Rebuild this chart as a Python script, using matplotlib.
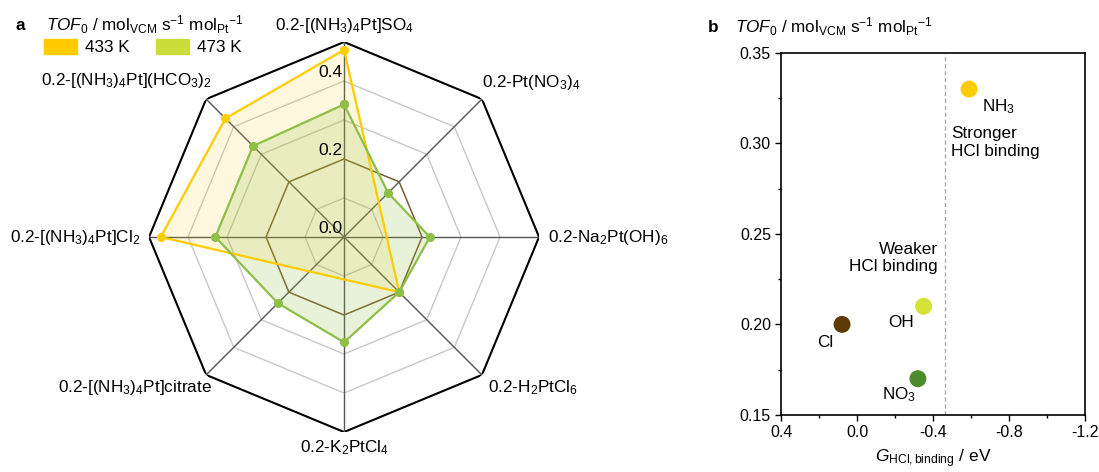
import numpy as np
import matplotlib.pyplot as plt
from matplotlib.patches import Patch
from matplotlib.ticker import MultipleLocator

plt.rcParams['font.family'] = 'Liberation Sans'
plt.rcParams['mathtext.fontset'] = 'custom'
plt.rcParams['mathtext.rm'] = 'Liberation Sans'
plt.rcParams['mathtext.it'] = 'Liberation Sans:italic'
plt.rcParams['mathtext.bf'] = 'Liberation Sans:bold'
plt.rcParams['axes.unicode_minus'] = False

# radar data, clockwise from top
precursors = [
    '0.2-[(NH$_3$)$_4$Pt]SO$_4$',
    '0.2-Pt(NO$_3$)$_4$',
    '0.2-Na$_2$Pt(OH)$_6$',
    '0.2-H$_2$PtCl$_6$',
    '0.2-K$_2$PtCl$_4$',
    '0.2-[(NH$_3$)$_4$Pt]citrate',
    '0.2-[(NH$_3$)$_4$Pt]Cl$_2$',
    '0.2-[(NH$_3$)$_4$Pt](HCO$_3$)$_2$',
]
tof_433 = [0.48, np.nan, np.nan, 0.20, np.nan, np.nan, 0.47, 0.43]
tof_473 = [0.34, 0.16, 0.22, 0.20, 0.27, 0.24, 0.33, 0.33]
ring_values = [0.1, 0.2, 0.3, 0.4, 0.5]
ring_labels = [0.0, 0.2, 0.4]
reference_ring = 0.2

# scatter data
ligands = ['NH$_3$', 'OH', 'Cl', 'NO$_3$']
g_binding = [-0.59, -0.35, 0.08, -0.32]
tof_ligand = [0.33, 0.21, 0.20, 0.17]
binding_threshold = -0.465

yellow = '#FFCC00'
green_line = '#8DBE45'
green_patch = '#C9DE3A'
ligand_colors = ['#FFCC00', '#D4E236', '#5E3A06', '#4B8B2B']

PX = 72 / 100  # points per pixel
FS = 12.3
tof_title = (r'$\mathit{TOF}_0$ / mol$_{\mathrm{VCM}}$ s$^{-1}$ '
             r'mol$_{\mathrm{Pt}}$$^{-1}$')

fig = plt.figure(figsize=(10.99, 4.72), dpi=100)

# ---- panel a: radar ----
ax = fig.add_axes([0.1356, 0.0847, 0.3549, 0.8263], projection='polar')
ax.set_theta_zero_location('N')
ax.set_theta_direction(-1)
ax.set_ylim(0, 0.5)
ax.axis('off')

n = len(precursors)
theta = np.arange(n) * 2 * np.pi / n
closed = np.append(theta, theta[0])

for r in ring_values:
    if r == max(ring_values):
        ax.plot(closed, [r] * (n + 1), color='black', lw=1.5, zorder=2)
    else:
        ax.plot(closed, [r] * (n + 1), color='#c8c8c8', lw=1, zorder=1)
ax.plot(closed, [reference_ring] * (n + 1), color='#7a5a2a', lw=1, zorder=3)
for t in theta:
    ax.plot([t, t], [0, max(ring_values)], color='#555555', lw=1, zorder=2)

for vals, lc, fa in [(tof_433, yellow, 0.13), (tof_473, green_line, 0.2)]:
    v = np.array(vals)
    ok = ~np.isnan(v)
    t = np.append(theta[ok], theta[ok][0])
    r = np.append(v[ok], v[ok][0])
    ax.fill(t, r, color=lc, alpha=fa, lw=0, zorder=4)
    ax.plot(t, r, color=lc, lw=1.6, marker='o', ms=5.5, zorder=5)

for val in ring_labels:
    ax.annotate(f'{val:.1f}', (0, val), xytext=(-2 * PX, 9 * PX),
                textcoords='offset points', ha='right', va='center',
                fontsize=12.5, zorder=6)

# label offsets in pixels and alignment
label_pos = [(0, 17, 'center'), (0, 17, 'left'), (9, 0, 'left'),
             (6, -13, 'left'), (0, -16, 'center'), (6, -13, 'right'),
             (-9, 0, 'right'), (6, 19, 'right')]
for t, name, (dx, dy, ha) in zip(theta, precursors, label_pos):
    ax.annotate(name, (t, max(ring_values)), xytext=(dx * PX, dy * PX),
                textcoords='offset points', ha=ha, va='center',
                fontsize=FS, annotation_clip=False)

fig.text(15 / 1099, 1 - 25 / 472, 'a', fontsize=FS, fontweight='bold',
         va='center')
fig.text(46 / 1099, 1 - 25 / 472, tof_title, fontsize=FS, va='center')
fig.legend(handles=[Patch(color=yellow, label='433 K'),
                    Patch(color=green_patch, label='473 K')],
           loc='upper left', bbox_to_anchor=(44 / 1099, 1 - 39 / 472),
           ncol=2, frameon=False, fontsize=FS, borderpad=0, borderaxespad=0,
           handlelength=1.95, handleheight=0.95, handletextpad=0.45,
           columnspacing=1.55)

# ---- panel b: scatter ----
ax2 = fig.add_axes([0.711, 0.121, 0.276, 0.767])
ax2.set_xlim(0.4, -1.2)
ax2.set_ylim(0.15, 0.35)
ax2.set_xticks([0.4, 0.0, -0.4, -0.8, -1.2])
ax2.set_yticks([0.15, 0.20, 0.25, 0.30, 0.35])
ax2.xaxis.set_minor_locator(MultipleLocator(0.2))
ax2.yaxis.set_minor_locator(MultipleLocator(0.025))
ax2.xaxis.set_major_formatter(plt.FormatStrFormatter('%.1f'))
ax2.yaxis.set_major_formatter(plt.FormatStrFormatter('%.2f'))
ax2.tick_params(which='both', direction='out', labelsize=11.5, width=1)
ax2.tick_params(which='major', length=4)
ax2.tick_params(which='minor', length=2.5)
for s in ax2.spines.values():
    s.set_linewidth(1.2)

ax2.axvline(binding_threshold, color='#aaaaaa', lw=1, ls=(0, (3, 2)))
ax2.scatter(g_binding, tof_ligand, s=125, c=ligand_colors, zorder=3)

ligand_offsets = [(13, -18, 'left'), (-10, -16, 'right'),
                  (-9, -18, 'right'), (-2, -16, 'right')]
for x, y, name, (dx, dy, ha) in zip(g_binding, tof_ligand, ligands,
                                    ligand_offsets):
    ax2.annotate(name, (x, y), xytext=(dx * PX, dy * PX),
                 textcoords='offset points', ha=ha, va='center', fontsize=FS)

ax2.text(binding_threshold - 0.03, 0.3095, 'Stronger\nHCl binding',
         ha='left', va='top', fontsize=FS, linespacing=1.2)
ax2.text(binding_threshold + 0.04, 0.2455, 'Weaker\nHCl binding',
         ha='right', va='top', fontsize=FS, linespacing=1.2)

ax2.set_xlabel(r'$G_{\mathrm{HCl,binding}}$ / eV', fontsize=12.5, labelpad=5)
fig.text(708 / 1099, 1 - 27 / 472, 'b', fontsize=FS, fontweight='bold',
         va='center')
fig.text(735 / 1099, 1 - 27 / 472, tof_title, fontsize=FS, va='center')

fig.savefig('out.png', dpi=100)
